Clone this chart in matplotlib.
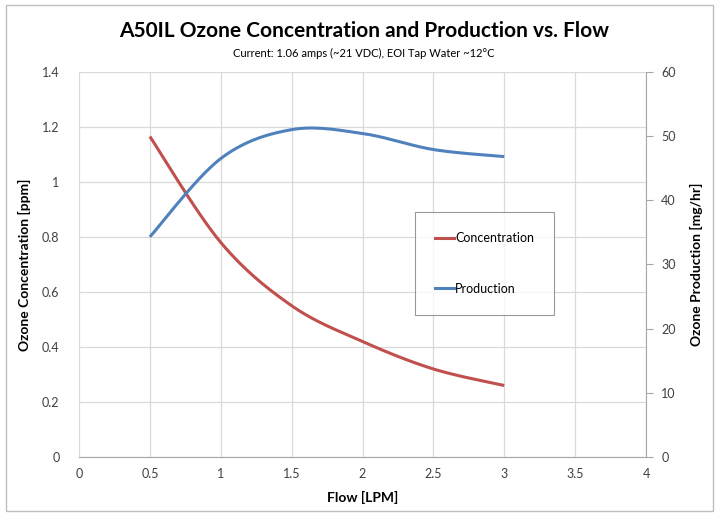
import numpy as np
import matplotlib
matplotlib.use("Agg")
import matplotlib.pyplot as plt
from matplotlib.patches import Rectangle
from matplotlib.lines import Line2D

plt.rcParams['font.family'] = ['Lato', 'DejaVu Sans']

# Data
flow = [0.5, 1.0, 1.5, 2.0, 2.5, 3.0]
concentration = [1.165, 0.78, 0.55, 0.42, 0.32, 0.26]      # ppm
production = [34.3, 46.5, 51.0, 50.4, 47.9, 46.8]          # mg/hr

left_ticks = [0, 0.2, 0.4, 0.6, 0.8, 1, 1.2, 1.4]
right_ticks = [0, 10, 20, 30, 40, 50, 60]
x_ticks = [0, 0.5, 1, 1.5, 2, 2.5, 3, 3.5, 4]

RED = '#C0504D'
BLUE = '#4F81BD'
GRID = '#D9D9D9'


def smooth(xs, ys, n=30):
    # Excel-style smoothed line: cubic Bezier with Catmull-Rom control points
    xs = np.asarray(xs, float)
    ys = np.asarray(ys, float)
    px, py = [], []
    for i in range(len(xs) - 1):
        x0, y0 = (xs[i - 1], ys[i - 1]) if i > 0 else (xs[i], ys[i])
        x3, y3 = (xs[i + 2], ys[i + 2]) if i + 2 < len(xs) else (xs[i + 1], ys[i + 1])
        x1, y1 = xs[i], ys[i]
        x2, y2 = xs[i + 1], ys[i + 1]
        c1x, c1y = x1 + (x2 - x0) / 6, y1 + (y2 - y0) / 6
        c2x, c2y = x2 - (x3 - x1) / 6, y2 - (y3 - y1) / 6
        t = np.linspace(0, 1, n)
        px.append((1-t)**3*x1 + 3*(1-t)**2*t*c1x + 3*(1-t)*t**2*c2x + t**3*x2)
        py.append((1-t)**3*y1 + 3*(1-t)**2*t*c1y + 3*(1-t)*t**2*c2y + t**3*y2)
    return np.concatenate(px), np.concatenate(py)


fig = plt.figure(figsize=(7.21, 5.17), dpi=100)
fig.patches.append(Rectangle((0.009, 0.012), 0.98, 0.978, transform=fig.transFigure,
                             fill=False, edgecolor='#BFBFBF', linewidth=1))

ax = fig.add_axes([0.1096, 0.116, 0.7864, 0.745])
ax2 = ax.twinx()

cx, cy = smooth(flow, concentration)
ax.plot(cx, cy, color=RED, linewidth=2.2, solid_capstyle='butt', zorder=3)
px_, py_ = smooth(flow, production)
ax2.plot(px_, py_, color=BLUE, linewidth=2.2, solid_capstyle='butt', zorder=3)

ax.set_xlim(0, 4)
ax.set_ylim(0, 1.4)
ax2.set_ylim(0, 60)
ax.set_xticks(x_ticks)
ax.set_xticklabels([f'{v:g}' for v in x_ticks])
ax.set_yticks(left_ticks)
ax.set_yticklabels([f'{v:g}' for v in left_ticks])
ax2.set_yticks(right_ticks)
ax2.set_yticklabels([str(v) for v in right_ticks])

ax.grid(True, color=GRID, linewidth=0.9)
ax.set_axisbelow(True)
for a in (ax, ax2):
    for s in a.spines.values():
        s.set_visible(False)
ax2.spines['right'].set_visible(True)
ax2.spines['right'].set_color('#A6A6A6')
ax.spines['bottom'].set_visible(True)
ax.spines['bottom'].set_color('#A6A6A6')

ax.tick_params(axis='x', length=0, labelsize=9, colors='#404040', pad=8)
ax.tick_params(axis='y', length=0, labelsize=9, colors='#404040', pad=14)
ax2.tick_params(axis='y', length=5, width=0.8, color='#A6A6A6', labelsize=9,
                labelcolor='#404040', pad=6)

ax.set_xlabel('Flow [LPM]', fontsize=10, fontweight='bold', labelpad=8)
ax.set_ylabel('Ozone Concentration [ppm]', fontsize=10, fontweight='bold', labelpad=8)
ax2.set_ylabel('Ozone Production [mg/hr]', fontsize=10, fontweight='bold', labelpad=10)

fig.text(0.505, 0.94, 'A50IL Ozone Concentration and Production vs. Flow',
         ha='center', va='center', fontsize=15, fontweight='bold')
fig.text(0.505, 0.897, 'Current: 1.06 amps (~21 VDC), EOI Tap Water ~12°C',
         ha='center', va='center', fontsize=8)

handles = [Line2D([], [], color=RED, linewidth=2.2),
           Line2D([], [], color=BLUE, linewidth=2.2)]
leg = ax.legend(handles, ['Concentration', 'Production'], loc='upper left',
                bbox_to_anchor=(0.593, 0.636), frameon=True, fancybox=False,
                edgecolor='#7F7F7F', fontsize=9, handlelength=1.5,
                handletextpad=0.1, labelspacing=3.1, borderpad=1.6,
                borderaxespad=0)
leg.get_frame().set_linewidth(0.8)
leg.set_zorder(5)

fig.savefig('out.png', dpi=100)
